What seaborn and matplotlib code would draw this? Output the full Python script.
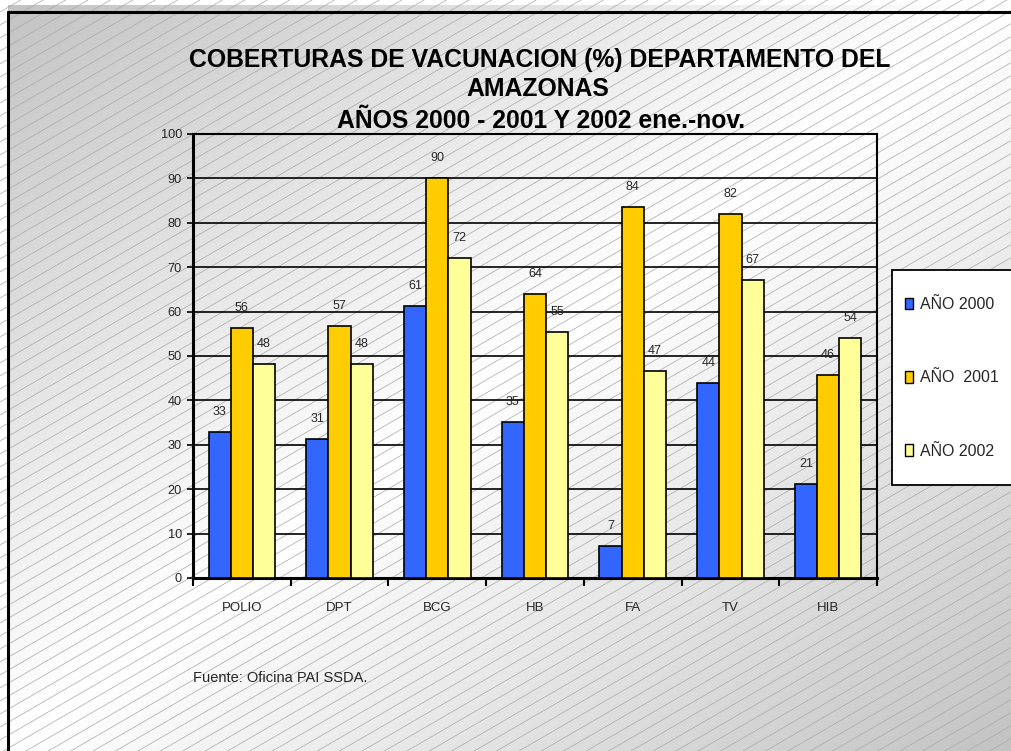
"""Coberturas de vacunacion - Amazonas 2000-2002"""
import numpy as np
import pandas as pd
import matplotlib
matplotlib.use("Agg")
import matplotlib.pyplot as plt
from matplotlib.patches import Rectangle, Patch
from matplotlib.collections import LineCollection
import seaborn as sns

vacunas = ["POLIO", "DPT", "BCG", "HB", "FA", "TV", "HIB"]
anios = ["AÑO 2000", "AÑO  2001", "AÑO 2002"]
cob_2000 = [32.8, 31.3, 61.3, 35.1, 7.2, 43.9, 21.2]
cob_2001 = [56.3, 56.8, 90.1, 64.0, 83.6, 82.0, 45.7]
cob_2002 = [48.2, 48.2, 72.1, 55.4, 46.6, 67.1, 54.1]
colores = ["#3366FF", "#FFCC00", "#FFFF99"]
y_ticks = list(range(0, 101, 10))

df = pd.DataFrame({
    "vacuna": vacunas * 3,
    "anio": [anios[0]] * 7 + [anios[1]] * 7 + [anios[2]] * 7,
    "cobertura": cob_2000 + cob_2001 + cob_2002,
})

sns.set_theme(style="white")
plt.rcParams["font.family"] = ["Liberation Sans", "DejaVu Sans"]

W, H = 1011, 751
fig = plt.figure(figsize=(W / 100, H / 100), dpi=100)
fig.patch.set_facecolor("white")

# background: diagonal gradient + hatch lines, in pixel coords
bg = fig.add_axes([0, 0, 1, 1], zorder=-1)
bg.set_xlim(0, W)
bg.set_ylim(H, 0)
bg.axis("off")
xx, yy = np.meshgrid(np.arange(W), np.arange(H))
t = np.abs(xx / W + yy / H - 1)
grad = 1 - 0.24 * t
bg.imshow(grad, cmap="gray", vmin=0, vmax=1, extent=(0, W, H, 0), aspect="auto", zorder=0)
bg.add_patch(Rectangle((0, 0), 8, H, fc="white", ec="none", zorder=1))
bg.add_patch(Rectangle((0, 0), W, 5, fc="white", ec="none", zorder=1))
slope = 0.58
segs = [[(0, c), (W, c - slope * W)] for c in np.arange(12, H + slope * W + 13, 13)]
lc = LineCollection(segs, colors="#a8a8a8", linewidths=0.5, zorder=2)
clip = Rectangle((8, 12), W, H, transform=bg.transData, fc="none", ec="none")
bg.add_patch(clip)
lc.set_clip_path(clip)
bg.add_collection(lc)
bg.plot([8, W], [12, 12], color="black", lw=2.2, zorder=3)
bg.plot([8, 8], [12, H], color="black", lw=2.2, zorder=3)
bg.add_patch(Rectangle((892, 270), 140, 215, fc="white", ec="black", lw=1.3, zorder=4))

ax = fig.add_axes([193 / W, 1 - 578 / H, (877 - 193) / W, (578 - 134) / H], zorder=1)
ax.patch.set_alpha(0)
sns.barplot(data=df, x="vacuna", y="cobertura", hue="anio", palette=colores,
            width=0.68, edgecolor="black", linewidth=1.2, saturation=1,
            legend=False, ax=ax, zorder=3)
for cont in ax.containers:
    ax.bar_label(cont, fmt="%.0f", padding=10, fontsize=9)

ax.set_ylim(0, 100)
ax.set_xlim(-0.5, 6.5)
ax.set_yticks(y_ticks)
ax.yaxis.grid(True, color="black", lw=1.2, zorder=0)
ax.set_axisbelow(True)
ax.set_xlabel("")
ax.set_ylabel("")
ax.tick_params(axis="y", direction="out", length=4, width=1.2, pad=4, labelsize=9.2, left=True, color="black")
ax.tick_params(axis="x", which="major", length=0, pad=17, labelsize=9.5)
ax.set_xticks(np.arange(-0.5, 7, 1), minor=True)
ax.tick_params(axis="x", which="minor", direction="out", length=6, width=1.5, bottom=True, color="black")
for side in ["left", "bottom"]:
    ax.spines[side].set_linewidth(2.2)
for side in ["top", "right"]:
    ax.spines[side].set_linewidth(1.5)
for sp in ax.spines.values():
    sp.set_color("black")

handles = [Patch(fc=c, ec="black", lw=1.0) for c in colores]
fig.legend(handles, anios, loc="upper left", bbox_to_anchor=(905 / W, 1 - 297 / H),
           frameon=False, fontsize=11.5, handlelength=0.5, handleheight=0.75,
           handletextpad=0.45, labelspacing=3.65, borderaxespad=0, borderpad=0)

title_kw = dict(ha="center", va="baseline", fontsize=17.8, fontweight="bold", color="black")
fig.text(540 / W, 1 - 67 / H, "COBERTURAS DE VACUNACION (%) DEPARTAMENTO DEL", **title_kw)
fig.text(538 / W, 1 - 96 / H, "AMAZONAS", **title_kw)
fig.text(541 / W, 1 - 128 / H, "AÑOS 2000 - 2001 Y 2002 ene.-nov.", **title_kw)
fig.text(193 / W, 1 - 682 / H, "Fuente: Oficina PAI SSDA.", ha="left", va="baseline", fontsize=10.5)

fig.savefig("out.png", dpi=100)
